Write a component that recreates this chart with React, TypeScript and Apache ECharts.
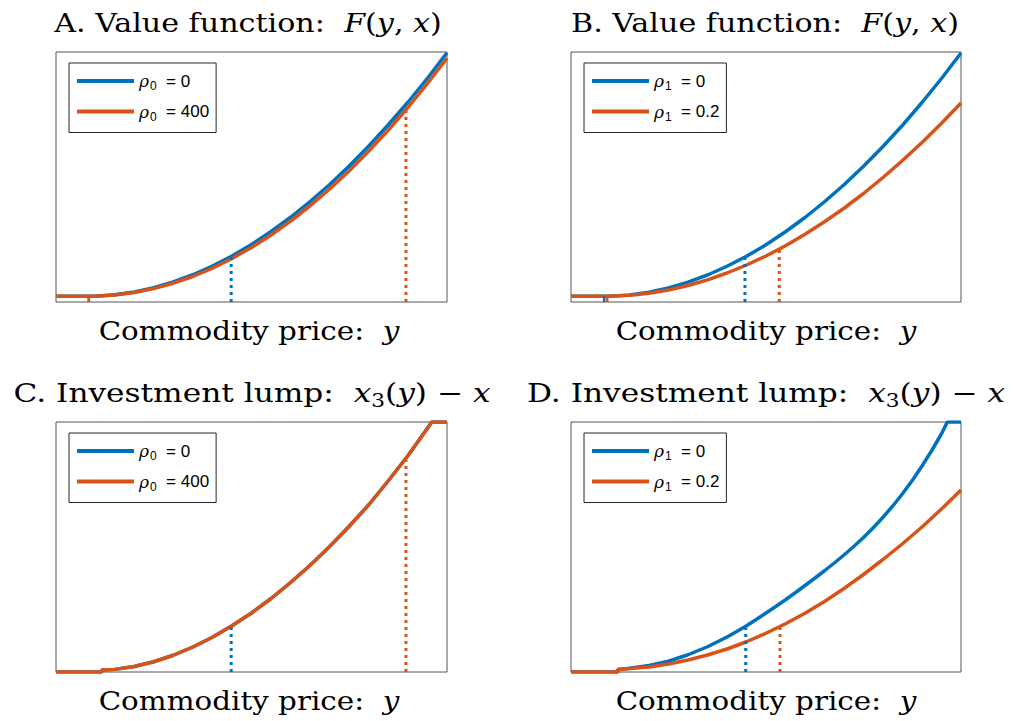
import React, { useEffect, useRef } from 'react';
import * as echarts from 'echarts';

const BLUE = '#0072BD';
const ORANGE = '#D95319';

// ---- Panel A: value function, rho0 ----
const uA = [0, 8.4, 10, 15, 20, 25, 30, 35, 40, 45, 50, 55, 60, 65, 70, 75, 80, 85, 90, 95, 100];
const valueA_rho0_0 = [2.3, 2.3, 2.33, 2.86, 3.99, 5.71, 8.01, 10.9, 14.4, 18.4, 23.0, 28.2, 33.9, 40.2, 47.0, 54.4, 62.4, 70.9, 79.9, 89.5, 99.7];
const valueA_rho0_400 = [2.3, 2.3, 2.33, 2.78, 3.8, 5.37, 7.52, 10.2, 13.5, 17.4, 21.8, 26.8, 32.4, 38.5, 45.2, 52.5, 60.4, 68.8, 77.8, 87.4, 97.5];
const triggerA_x = [44.8, 89.5];
const triggerA_y = [18.3, 77.0];
const lowerA_x = [8.4, 8.4];
const lowerA_y = [2.3, 2.3];

// ---- Panel B: value function, rho1 ----
const uB_0 = [0, 8.6, 10, 15, 20, 25, 30, 35, 40, 45, 50, 55, 60, 65, 70, 75, 80, 85, 90, 95, 100];
const valueB_rho1_0 = [2.3, 2.3, 2.33, 2.83, 3.95, 5.65, 7.95, 10.8, 14.3, 18.3, 22.9, 28.1, 33.8, 40.1, 46.9, 54.3, 62.2, 70.7, 79.8, 89.4, 99.6];
const uB_02 = [0, 9.3, 15, 20, 25, 30, 35, 40, 45, 50, 55, 60, 65, 70, 75, 80, 85, 90, 95, 100];
const valueB_rho1_02 = [2.3, 2.3, 2.65, 3.48, 4.8, 6.6, 8.86, 11.6, 14.8, 18.4, 22.5, 27.1, 32.1, 37.5, 43.4, 49.8, 56.6, 63.8, 71.5, 79.6];
const triggerB_x = [44.6, 53.4];
const triggerB_y = [18.1, 21.2];
const lowerB_x = [8.5, 9.3];
const lowerB_y = [2.3, 2.3];

// ---- Panel C: investment lump, rho0 (both curves coincide) ----
const uC = [0, 11.7, 11.7, 15, 20, 25, 30, 35, 40, 45, 50, 55, 60, 65, 70, 75, 80, 85, 90, 95, 96.1, 100];
const lumpC_rho0 = [0, 0, 0.8, 1.05, 2.2, 4.1, 6.7, 10.0, 13.9, 18.5, 23.6, 29.4, 35.8, 42.7, 50.2, 58.3, 66.9, 76.5, 86.5, 97.5, 100, 100];
const triggerC_x = [44.8, 89.5];
const triggerC_y = [18.3, 85.0];

// ---- Panel D: investment lump, rho1 ----
const uD_0 = [0, 12, 12, 15, 20, 25, 30, 35, 40, 42.5, 45, 47.5, 50, 52.5, 55, 57.5, 60, 62.5, 65, 67.5, 70, 72.5, 75, 77.5, 80, 82.5, 85, 87.5, 90, 92.5, 95, 96.5, 100];
const lumpD_rho1_0 = [0, 0, 1, 1.5, 2.6, 4.3, 6.9, 10.1, 14.0, 16.2, 18.5, 21.0, 23.6, 26.2, 28.9, 31.7, 34.6, 37.5, 40.5, 43.6, 46.8, 50.2, 53.8, 57.7, 61.9, 66.4, 71.3, 76.6, 82.4, 88.6, 95.3, 100, 100];
const uD_02 = [0, 12, 12, 20, 25, 30, 35, 40, 45, 50, 55, 60, 65, 70, 75, 80, 85, 90, 95, 100];
const lumpD_rho1_02 = [0, 0, 1, 2, 3.2, 4.8, 6.8, 9.2, 12.1, 15.5, 19.3, 23.5, 28.2, 33.4, 39, 45, 51.3, 58, 65.2, 72.8];
const triggerD_x = [44.8, 53.6];
const triggerD_y = [18.2, 18.0];

const zip = (xs: number[], ys: number[]) => xs.map((x, i) => [x, ys[i]]);

const GRIDS = [
  { left: 56, top: 52, width: 391, height: 250 },
  { left: 571, top: 52, width: 390, height: 250 },
  { left: 56, top: 422, width: 391, height: 250 },
  { left: 571, top: 422, width: 390, height: 250 },
];

function curve(name: string, g: number, data: number[][], color: string, z = 3) {
  return {
    type: 'line', name, xAxisIndex: g, yAxisIndex: g, data, showSymbol: false, symbol: 'none',
    itemStyle: { color }, lineStyle: { color, width: 3.5 }, z, silent: true,
  };
}
function vline(g: number, x: number, y: number, color: string, dotted: boolean) {
  return {
    type: 'line', name: '_v', xAxisIndex: g, yAxisIndex: g, data: [[x, 0], [x, y]], showSymbol: false, symbol: 'none',
    itemStyle: { color }, z: 4, silent: true,
    lineStyle: dotted ? { color, width: 3, type: [3, 4], cap: 'butt' } : { color, width: 2.5 },
  };
}

const legendNames: Record<string, string> = {
  'rho0=0': '{r|ρ}{s|0}{n|  = 0}',
  'rho0=400': '{r|ρ}{s|0}{n|  = 400}',
  'rho1=0': '{r|ρ}{s|1}{n|  = 0}',
  'rho1=0.2': '{r|ρ}{s|1}{n|  = 0.2}',
};

const legendRich = {
  r: { fontSize: 17, fontStyle: 'italic', fontFamily: 'DejaVu Serif', lineHeight: 22, color: '#000' },
  s: { fontSize: 12, fontFamily: 'Liberation Sans', lineHeight: 14, verticalAlign: 'bottom', color: '#000', padding: [0, 0, 0, 1] },
  n: { fontSize: 17, fontFamily: 'Liberation Sans', lineHeight: 22, color: '#000' },
};

function legend(names: string[], left: number, top: number) {
  return {
    data: names, left, top, orient: 'vertical', icon: 'rect', itemWidth: 57, itemHeight: 4, itemGap: 11,
    padding: [9.5, 7, 10, 8], borderColor: '#262626', borderWidth: 1, backgroundColor: '#fff', borderRadius: 0,
    selectedMode: false, formatter: (n: string) => legendNames[n],
    textStyle: { rich: legendRich },
  };
}

const FS = 26;
const titleRich = {
  n: { fontFamily: 'DejaVu Serif', fontSize: FS, lineHeight: 35, color: '#000' },
  i: { fontFamily: 'DejaVu Serif', fontSize: FS, fontStyle: 'italic', lineHeight: 35, color: '#000' },
  s: { fontFamily: 'DejaVu Serif', fontSize: 18, lineHeight: 25, verticalAlign: 'bottom', color: '#000' },
};

function label(x: number, y: number, text: string, scaleX: number) {
  return {
    type: 'text', x, y, scaleX, silent: true,
    style: { text, rich: titleRich, align: 'center', verticalAlign: 'middle', fill: '#000', font: FS + 'px "DejaVu Serif"' },
  };
}

export default function App() {
  const ref = useRef<HTMLDivElement>(null);
  useEffect(() => {
    const chart = echarts.init(ref.current!, undefined, { renderer: 'svg' });
    const axes = GRIDS.map((_, i) => ({ gridIndex: i, type: 'value', min: 0, max: 100, show: false }));
    chart.setOption({
      animation: false,
      backgroundColor: '#fff',
      grid: GRIDS.map((g) => ({ ...g, show: true, borderColor: '#555555', borderWidth: 1, backgroundColor: '#fff' })),
      xAxis: axes,
      yAxis: axes.map((a) => ({ ...a })),
      legend: [
        legend(['rho0=0', 'rho0=400'], 69, 63),
        legend(['rho1=0', 'rho1=0.2'], 584, 63),
        legend(['rho0=0', 'rho0=400'], 69, 433),
        legend(['rho1=0', 'rho1=0.2'], 584, 433),
      ],
      graphic: [
        label(248, 23, '{n|A. Value function:  }{i|F}{n|(}{i|y}{n|, }{i|x}{n|)}', 1.16),
        label(765, 23, '{n|B. Value function:  }{i|F}{n|(}{i|y}{n|, }{i|x}{n|)}', 1.16),
        label(252, 393, '{n|C. Investment lump:  }{i|x}{s|3}{n|(}{i|y}{n|) − }{i|x}', 1.2),
        label(766, 393, '{n|D. Investment lump:  }{i|x}{s|3}{n|(}{i|y}{n|) − }{i|x}', 1.2),
        label(249, 331, '{n|Commodity price:  }{i|y}', 1.13),
        label(766, 331, '{n|Commodity price:  }{i|y}', 1.13),
        label(249, 701, '{n|Commodity price:  }{i|y}', 1.13),
        label(766, 701, '{n|Commodity price:  }{i|y}', 1.13),
      ],
      series: [
        curve('rho0=0', 0, zip(uA, valueA_rho0_0), BLUE),
        curve('rho0=400', 0, zip(uA, valueA_rho0_400), ORANGE),
        vline(0, triggerA_x[0], triggerA_y[0], BLUE, true),
        vline(0, triggerA_x[1], triggerA_y[1], ORANGE, true),
        vline(0, lowerA_x[0], lowerA_y[0], BLUE, false),
        vline(0, lowerA_x[1], lowerA_y[1], ORANGE, false),

        curve('rho1=0', 1, zip(uB_0, valueB_rho1_0), BLUE),
        curve('rho1=0.2', 1, zip(uB_02, valueB_rho1_02), ORANGE),
        vline(1, triggerB_x[0], triggerB_y[0], BLUE, true),
        vline(1, triggerB_x[1], triggerB_y[1], ORANGE, true),
        vline(1, lowerB_x[0], lowerB_y[0], BLUE, false),
        vline(1, lowerB_x[1], lowerB_y[1], ORANGE, false),

        curve('rho0=0', 2, zip(uC, lumpC_rho0), BLUE),
        curve('rho0=400', 2, zip(uC, lumpC_rho0), ORANGE),
        vline(2, triggerC_x[0], triggerC_y[0], BLUE, true),
        vline(2, triggerC_x[1], triggerC_y[1], ORANGE, true),

        curve('rho1=0', 3, zip(uD_0, lumpD_rho1_0), BLUE),
        curve('rho1=0.2', 3, zip(uD_02, lumpD_rho1_02), ORANGE),
        vline(3, triggerD_x[0], triggerD_y[0], BLUE, true),
        vline(3, triggerD_x[1], triggerD_y[1], ORANGE, true),
      ],
    });
    return () => chart.dispose();
  }, []);
  return <div ref={ref} style={{ position: 'fixed', left: 0, top: 0, width: 1013, height: 721 }} />;
}
